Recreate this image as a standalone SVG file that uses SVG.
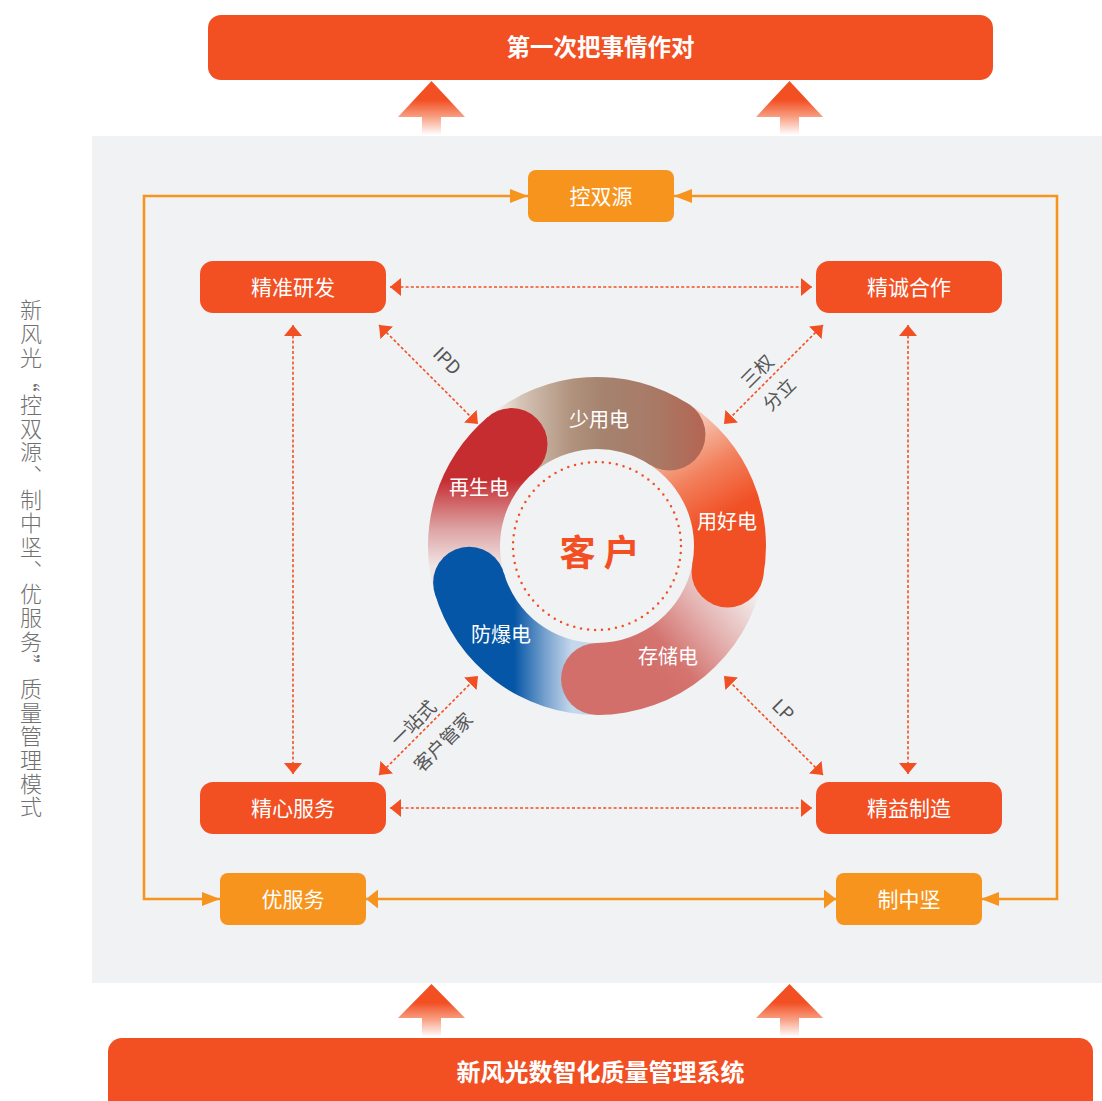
<svg xmlns="http://www.w3.org/2000/svg" width="1102" height="1101" viewBox="0 0 1102 1101">
<defs>
<style>
.cjk{font-family:"Noto Sans CJK SC","Noto Sans",sans-serif;}
.lbl{font-family:"Noto Sans CJK SC","Noto Sans",sans-serif;font-size:21px;fill:#ffffff;text-anchor:middle;}
.seg{font-family:"Noto Sans CJK SC","Noto Sans",sans-serif;font-size:20px;fill:#ffffff;text-anchor:middle;}
.diag{font-family:"Noto Sans CJK SC","Noto Sans",sans-serif;font-size:18.5px;fill:#555555;text-anchor:middle;}
.side{font-family:"Noto Sans CJK SC","Noto Sans",sans-serif;font-size:22px;fill:#707070;font-weight:300;writing-mode:vertical-rl;letter-spacing:1.67px;}
.red{fill:#F24F23;}
.org{fill:#F7941D;}
.dot{fill:none;stroke:#F24F23;stroke-width:1.6;stroke-dasharray:3 2.2;marker-start:url(#mD);marker-end:url(#mD);}
.oline{fill:none;stroke:#F7941D;stroke-width:2.6;}
</style>
<marker id="mD" viewBox="0 0 11 18" refX="11" refY="9" markerWidth="11" markerHeight="18" markerUnits="userSpaceOnUse" orient="auto-start-reverse"><path d="M0,0 L11,9 L0,18 Z" fill="#F24F23"/></marker>
<marker id="mO" viewBox="0 0 18 14" refX="18" refY="7" markerWidth="18" markerHeight="14" markerUnits="userSpaceOnUse" orient="auto-start-reverse"><path d="M0,0 L18,7 L0,14 Z" fill="#F7941D"/></marker>
<marker id="mO2" viewBox="0 0 12 19" refX="12" refY="9.5" markerWidth="12" markerHeight="19" markerUnits="userSpaceOnUse" orient="auto-start-reverse"><path d="M0,0 L12,9.5 L0,19 Z" fill="#F7941D"/></marker>
<linearGradient id="gUp" x1="0" y1="0" x2="0" y2="1">
<stop offset="0" stop-color="#F24F23"/><stop offset="0.35" stop-color="#F24F23"/><stop offset="0.67" stop-color="#F8A084"/><stop offset="1" stop-color="#FFFFFF"/>
</linearGradient>
<linearGradient id="g1" gradientUnits="userSpaceOnUse" x1="0" y1="566" x2="0" y2="480">
<stop offset="0" stop-color="#F1E4E4"/><stop offset="0.45" stop-color="#DCA0A1"/><stop offset="1" stop-color="#C62D31"/>
</linearGradient>
<linearGradient id="g2" gradientUnits="userSpaceOnUse" x1="500" y1="0" x2="705" y2="0">
<stop offset="0" stop-color="#EEE8E2"/><stop offset="0.1" stop-color="#D5C4B6"/><stop offset="0.35" stop-color="#B0927D"/><stop offset="0.5" stop-color="#A5836F"/><stop offset="0.75" stop-color="#A87A66"/><stop offset="1" stop-color="#B46553"/>
</linearGradient>
<linearGradient id="g3" gradientUnits="userSpaceOnUse" x1="703" y1="418" x2="750" y2="500">
<stop offset="0" stop-color="#F6C2AF"/><stop offset="0.5" stop-color="#F2805C"/><stop offset="1" stop-color="#F15025"/>
</linearGradient>
<linearGradient id="g4" gradientUnits="userSpaceOnUse" x1="756" y1="598" x2="660" y2="680">
<stop offset="0" stop-color="#F2ECEC"/><stop offset="0.4" stop-color="#E4B4B2"/><stop offset="0.8" stop-color="#D4736F"/><stop offset="1" stop-color="#D36F6B"/>
</linearGradient>
<linearGradient id="g5" gradientUnits="userSpaceOnUse" x1="572" y1="0" x2="514" y2="0">
<stop offset="0" stop-color="#C4D8EC"/><stop offset="0.45" stop-color="#79A2CE"/><stop offset="1" stop-color="#0556A6"/>
</linearGradient>
</defs>

<rect x="0" y="0" width="1102" height="1101" fill="#FFFFFF"/>
<rect x="92" y="136" width="1010" height="847" fill="#F1F2F4"/>

<g id="top-bar">
<rect x="208" y="15" width="785" height="65" rx="13" class="red"/>
<text x="600.5" y="56" class="cjk" font-size="23.5" font-weight="700" fill="#FFFFFF" text-anchor="middle">第一次把事情作对</text>
</g>
<g id="bottom-bar">
<rect x="108" y="1038" width="985" height="80" rx="14" class="red"/>
<text x="600.5" y="1081" class="cjk" font-size="24" font-weight="700" fill="#FFFFFF" text-anchor="middle">新风光数智化质量管理系统</text>
</g>

<g id="up-arrows" fill="url(#gUp)">
<path d="M431.5,81 L465,117 L441,117 L441,135 L422,135 L422,117 L398,117 Z"/>
<path d="M789.5,81 L823,117 L799,117 L799,135 L780,135 L780,117 L756,117 Z"/>
<path d="M431.5,984 L465,1018 L441,1018 L441,1037 L422,1037 L422,1018 L398,1018 Z"/>
<path d="M789.5,984 L823,1018 L799,1018 L799,1037 L780,1037 L780,1018 L756,1018 Z"/>
</g>

<g id="side-text">
<text class="side" x="31" y="299">新风光“控双源、制中坚、优服务”质量管理模式</text>
</g>

<g id="connectors">
<path class="oline" d="M528,196 H144 V899 H220" marker-start="url(#mO)" marker-end="url(#mO)"/>
<path class="oline" d="M674,196 H1057 V899 H981" marker-start="url(#mO)" marker-end="url(#mO)"/>
<path class="oline" d="M366,899 H836" marker-start="url(#mO2)" marker-end="url(#mO2)"/>
<path class="dot" d="M390,287 H812"/>
<path class="dot" d="M390,808 H812"/>
<path class="dot" d="M293,325 V774"/>
<path class="dot" d="M908,325 V774"/>
<path class="dot" d="M379,325 L478,424"/>
<path class="dot" d="M823,325 L724,424"/>
<path class="dot" d="M379,775 L478,676"/>
<path class="dot" d="M823,775 L724,676"/>
<text class="diag" transform="translate(447,361) rotate(45)" y="6.5" font-size="18">IPD</text>
<text class="diag" transform="translate(783,710) rotate(45)" y="6.5" font-size="18">LP</text>
<text class="diag" transform="translate(757,371) rotate(-45)" y="7">三权</text>
<text class="diag" transform="translate(779,394) rotate(-45)" y="7">分立</text>
<text class="diag" transform="translate(413,723) rotate(-45)" y="7">一站式</text>
<text class="diag" transform="translate(443,742) rotate(-45)" y="7">客户管家</text>
</g>

<g id="node-kongshuangyuan"><rect x="528" y="170" width="146" height="52" rx="8" class="org"/><text x="601" y="203.5" class="lbl">控双源</text></g>
<g id="node-jingzhunyanfa"><rect x="200" y="261" width="186" height="52" rx="13" class="red"/><text x="293" y="294.5" class="lbl">精准研发</text></g>
<g id="node-jingchenghezuo"><rect x="816" y="261" width="186" height="52" rx="13" class="red"/><text x="909" y="294.5" class="lbl">精诚合作</text></g>
<g id="node-jingxinfuwu"><rect x="200" y="782" width="186" height="52" rx="13" class="red"/><text x="293" y="815.5" class="lbl">精心服务</text></g>
<g id="node-jingyizhizao"><rect x="816" y="782" width="186" height="52" rx="13" class="red"/><text x="909" y="815.5" class="lbl">精益制造</text></g>
<g id="node-youfuwu"><rect x="220" y="873" width="146" height="52" rx="8" class="org"/><text x="293" y="906.5" class="lbl">优服务</text></g>
<g id="node-zhizhongjian"><rect x="836" y="873" width="146" height="52" rx="8" class="org"/><text x="909" y="906.5" class="lbl">制中坚</text></g>

<g id="node-ring">
<path fill="url(#g1)" d="M434.54,592.58 A169,169 0 0 1 488.37,416.55 L534.65,471.70 A97,97 0 0 0 503.75,572.73 Z"/>
<path fill="url(#g2)" d="M488.37,416.55 A169,169 0 0 1 689.04,404.26 L649.83,464.65 A97,97 0 0 0 534.65,471.70 Z"/>
<path fill="url(#g3)" d="M689.04,404.26 A169,169 0 0 1 762.89,578.25 L692.22,564.51 A97,97 0 0 0 649.83,464.65 Z"/>
<path fill="url(#g4)" d="M762.89,578.25 A169,169 0 0 1 597,715 L597,643 A97,97 0 0 0 692.22,564.51 Z"/>
<path fill="url(#g5)" d="M597,715 A169,169 0 0 1 434.54,592.58 L503.75,572.73 A97,97 0 0 0 597,643 Z"/>
<circle cx="511.51" cy="444.12" r="36" fill="url(#g1)"/>
<circle cx="669.43" cy="434.45" r="36" fill="url(#g2)"/>
<circle cx="727.56" cy="571.38" r="36" fill="url(#g3)"/>
<circle cx="597" cy="679" r="36" fill="url(#g4)"/>
<circle cx="469.15" cy="582.65" r="36" fill="url(#g5)"/>
<circle cx="597" cy="546" r="84" fill="none" stroke="#F24F23" stroke-width="2.5" stroke-linecap="round" stroke-dasharray="0 7.037"/>
<text x="599" y="427" class="seg">少用电</text>
<text x="479" y="495" class="seg">再生电</text>
<text x="727" y="529" class="seg">用好电</text>
<text x="501" y="642" class="seg">防爆电</text>
<text x="668" y="664" class="seg">存储电</text>
<text x="577.5" y="566" class="cjk" font-size="36" font-weight="700" fill="#F24F23" text-anchor="middle">客</text>
<text x="621.5" y="566" class="cjk" font-size="36" font-weight="700" fill="#F24F23" text-anchor="middle">户</text>
</g>
</svg>
